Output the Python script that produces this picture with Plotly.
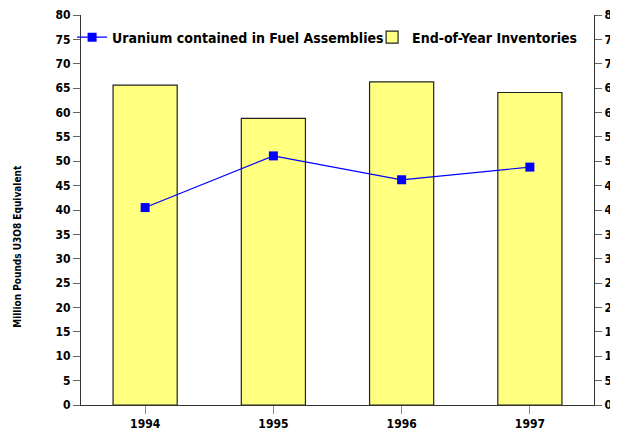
import plotly.graph_objects as go

years = ['1994', '1995', '1996', '1997']
inventories = [65.6, 58.8, 66.3, 64.1]
fuel_assemblies = [40.5, 51.1, 46.2, 48.8]
y_ticks = list(range(0, 81, 5))

font_fam = 'DejaVu Sans Condensed, Liberation Sans Narrow, Arial Narrow, sans-serif'

fig = go.Figure()

fig.add_trace(go.Bar(
    x=years, y=inventories, name='End-of-Year Inventories',
    marker=dict(color='#FFFF80', line=dict(color='#222222', width=1.2)),
    width=0.5,
))
fig.add_trace(go.Scatter(
    x=years, y=fuel_assemblies, name='Uranium contained in Fuel Assemblies',
    mode='lines+markers',
    line=dict(color='#0000FF', width=1.2),
    marker=dict(symbol='square', size=9, color='#0000FF'),
    legendwidth=255,  # keeps both legend entries on one row
))
# dummy trace so the right axis gets drawn
fig.add_trace(go.Scatter(x=years, y=inventories, yaxis='y2', showlegend=False,
                         mode='markers', marker=dict(opacity=0), hoverinfo='skip'))

# y title sits below the plot centre in the original, so use an annotation
fig.add_annotation(
    text='Million Pounds U3O8 Equivalent', textangle=-90,
    xref='paper', yref='paper', x=-0.123, y=0.408,
    xanchor='center', yanchor='middle', showarrow=False,
    font=dict(family=font_fam, size=10, color='black', weight='bold'),
)

# page body has an 8px margin, so the figure is a bit smaller than the window
fig.update_layout(
    width=610, height=428,
    margin=dict(l=73, r=24, t=7, b=31, autoexpand=False),
    plot_bgcolor='white', paper_bgcolor='white',
    font=dict(family=font_fam, color='black'),
    showlegend=True,
    legend=dict(
        orientation='h', x=-0.031, y=1.001, xanchor='left', yanchor='top',
        font=dict(family=font_fam, size=14, color='black', weight='bold'),
        traceorder='reversed', bgcolor='rgba(0,0,0,0)', itemwidth=30,
        borderwidth=7, bordercolor='rgba(0,0,0,0)', tracegroupgap=0,
    ),
    xaxis=dict(
        showline=True, linecolor='#333333', linewidth=1,
        ticks='outside', ticklen=8, tickcolor='#888888',
        tickfont=dict(family=font_fam, size=12, color='black', weight='bold'),
        showgrid=False, automargin=False,
    ),
    yaxis=dict(
        range=[0, 80], tickvals=y_ticks, showline=True, linecolor='#333333',
        linewidth=1, ticks='outside', ticklen=7, tickcolor='#666666',
        tickfont=dict(family=font_fam, size=12, color='black', weight='bold'),
        showgrid=False, zeroline=False, automargin=False,
    ),
    yaxis2=dict(
        range=[0, 80], tickvals=y_ticks, overlaying='y', side='right',
        showline=True, linecolor='#333333', linewidth=1, ticks='outside',
        ticklen=7, tickcolor='#666666',
        tickfont=dict(family=font_fam, size=12, color='black', weight='bold'),
        showgrid=False, zeroline=False, automargin=False,
    ),
)

fig.write_html('out.html')
